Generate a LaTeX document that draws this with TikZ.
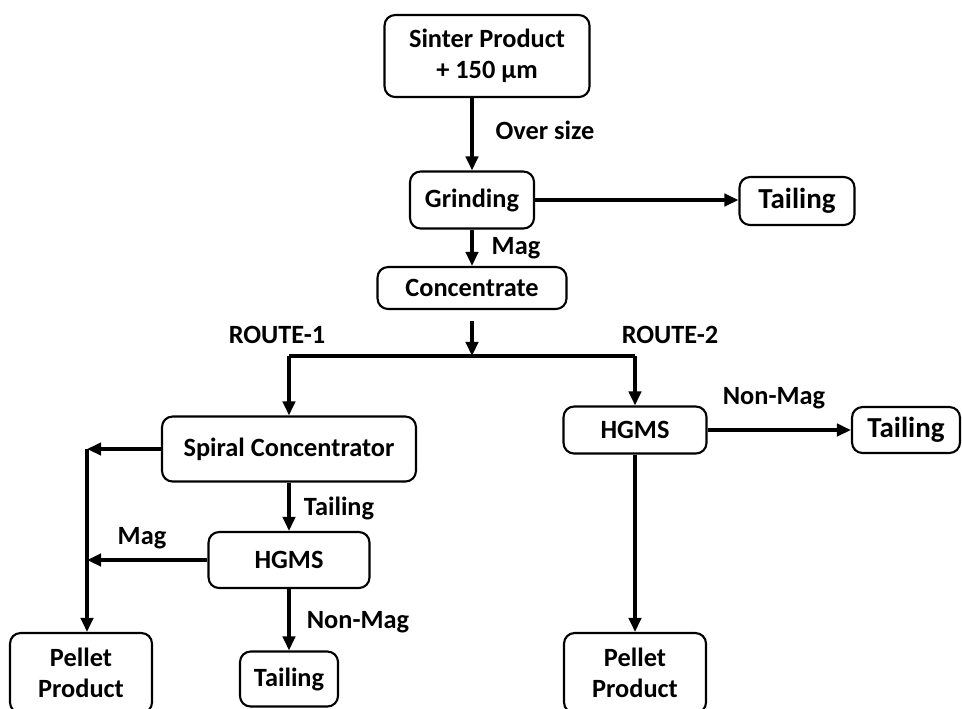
\documentclass[tikz,border=0pt]{standalone}
\usepackage{fontspec}
\setmainfont{Carlito}
\usetikzlibrary{arrows.meta}

\begin{document}
\begin{tikzpicture}[x=0.02cm, y=-0.02cm,
  box/.style={draw, rounded corners=6pt, line width=1.2pt, font=\fontsize{15}{18}\selectfont\bfseries, align=center, inner sep=0pt},
  arrow/.style={-{Triangle[length=8pt, width=7pt]}, line width=1.9pt},
  line/.style={line width=1.9pt},
  lbl/.style={font=\fontsize{15}{18}\selectfont\bfseries}
]
  \useasboundingbox (0,0) rectangle (962,708);
  \clip (0,0) rectangle (962,708);

  \node[box, minimum width=4.1cm, minimum height=1.64cm] (sinter) at (487,56) {Sinter Product\\+ 150 µm};
  \node[box, minimum width=2.48cm, minimum height=1.14cm] (grind) at (472,200) {Grinding};
  \node[box, minimum width=2.3cm, minimum height=0.96cm, font=\fontsize{16.5}{19}\selectfont\bfseries] (tailA) at (797,201) {Tailing};
  \node[box, minimum width=3.78cm, minimum height=0.84cm] (conc) at (472,288) {Concentrate};
  \node[box, minimum width=5.08cm, minimum height=1.3cm] (spiral) at (289,449) {Spiral Concentrator};
  \node[box, minimum width=2.86cm, minimum height=0.94cm] (hgmsR) at (635,430) {HGMS};
  \node[box, minimum width=2.16cm, minimum height=0.92cm, font=\fontsize{16.5}{19}\selectfont\bfseries] (tailR) at (906,430) {Tailing};
  \node[box, minimum width=3.22cm, minimum height=1.12cm] (hgmsL) at (289,560) {HGMS};
  \node[box, minimum width=1.96cm, minimum height=1.1cm] (tailB) at (289,679) {Tailing};
  \node[box, minimum width=2.84cm, minimum height=1.6cm] (pelletL) at (81,673) {Pellet\\Product};
  \node[box, minimum width=2.84cm, minimum height=1.6cm] (pelletR) at (635,673) {Pellet\\Product};

  % labels
  \node[lbl] (oversize) at (545,130) {Over size};
  \node[lbl] (magA) at (516,248) {Mag};
  \node[lbl] (route1) at (277,335) {ROUTE-1};
  \node[lbl] (route2) at (670,335) {ROUTE-2};
  \node[lbl] (nonmagR) at (774,398) {Non-Mag};
  \node[lbl] (tailLbl) at (339,508) {Tailing};
  \node[lbl] (magB) at (142,538) {Mag};
  \node[lbl] (nonmagL) at (358,622) {Non-Mag};

  \coordinate (split) at (472,356);
  \coordinate (junc) at (87,449);

  \draw[arrow] (sinter.south -| grind.north) -- (grind.north);
  \draw[arrow] (grind.east) -- (tailA.west |- grind.east);
  \draw[arrow] (grind.south) -- (conc.north);
  \draw[arrow] ([yshift=-0.22cm]conc.south) -- (split);
  \draw[line] (spiral.north |- split) -- (hgmsR.north |- split);
  \draw[arrow] (spiral.north |- split) -- (spiral.north);
  \draw[arrow] (hgmsR.north |- split) -- (hgmsR.north);
  \draw[arrow] (hgmsR.east) -- (tailR.west);
  \draw[arrow] (hgmsR.south) -- (pelletR.north);
  \draw[arrow] (spiral.west) -- (junc);
  \draw[arrow] (junc) -- (junc |- pelletL.north);
  \draw[arrow] (hgmsL.west) -- (junc |- hgmsL.west);
  \draw[arrow] (spiral.south) -- (hgmsL.north);
  \draw[arrow] (hgmsL.south) -- (tailB.north);
\end{tikzpicture}
\end{document}
